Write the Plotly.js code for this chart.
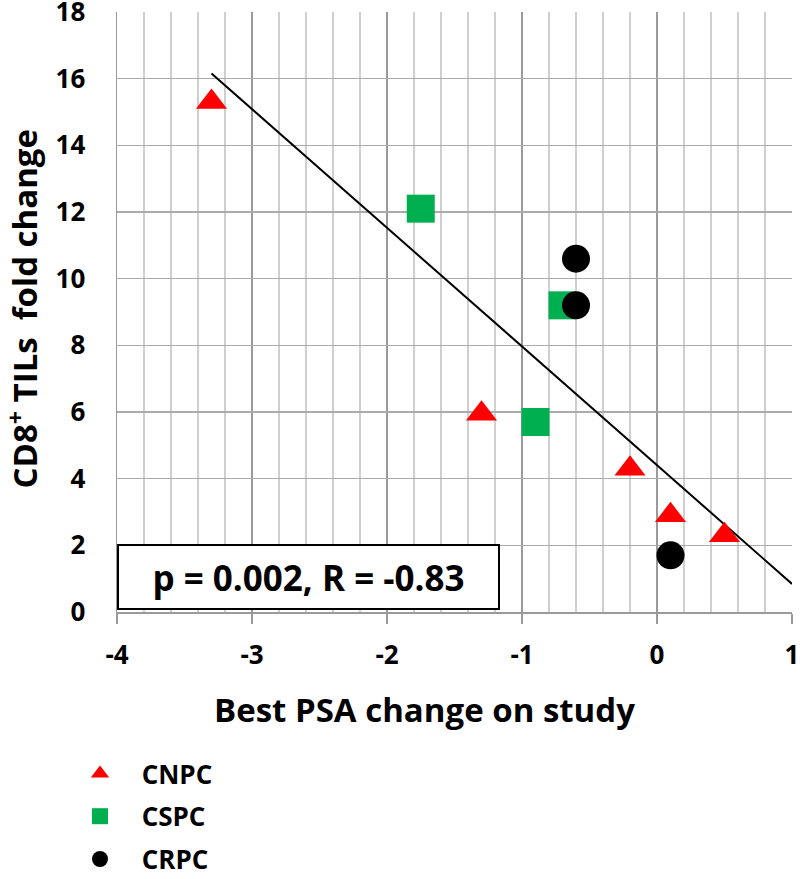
<!DOCTYPE html>
<html>
<head>
<meta charset="utf-8">
<script src="https://cdn.plot.ly/plotly-3.0.1.min.js"></script>
<style>html,body{margin:0;padding:0;background:#fff}#chart{width:800px;height:879px}</style>
</head>
<body>
<div id="chart"></div>
<script>
// Data
const cnpcX = [-3.3, -1.3, -0.2, 0.1, 0.5];
const cnpcY = [15.3, 5.95, 4.3, 2.9, 2.3];
const cspcX = [-1.75, -0.7, -0.9];
const cspcY = [12.1, 9.2, 5.7];
const crpcX = [-0.6, -0.6, 0.1];
const crpcY = [10.6, 9.2, 1.7];
const groupNames = ["CNPC", "CSPC", "CRPC"];
const xTickVals = [-4, -3, -2, -1, 0, 1];
const xTickText = ["-4", "-3", "-2", "-1", "0", "1"];
const yTickVals = [0, 2, 4, 6, 8, 10, 12, 14, 16, 18];
const yTickText = ["0", "2", "4", "6", "8", "10", "12", "14", "16", "18"];
const xTitle = "Best PSA change on study";
const yTitle = "CD8<sup>+</sup> TILs  fold change";
const statText = "p = 0.002, R = -0.83";
const fitRange = [-3.3, 1];

// least-squares fit of all points
const allX = cnpcX.concat(cspcX, crpcX);
const allY = cnpcY.concat(cspcY, crpcY);
const n = allX.length;
const mx = allX.reduce((a, b) => a + b, 0) / n;
const my = allY.reduce((a, b) => a + b, 0) / n;
let sxy = 0, sxx = 0;
for (let i = 0; i < n; i++) { sxy += (allX[i] - mx) * (allY[i] - my); sxx += (allX[i] - mx) ** 2; }
const slope = sxy / sxx;
const intercept = my - slope * mx;
const fitY = fitRange.map(x => intercept + slope * x);

const FONT = "'Open Sans', Lato, sans-serif";
const pad = "\u2002\u2004";

const traces = [
  { x: fitRange, y: fitY, mode: "lines", line: { color: "#000", width: 2 }, showlegend: false, hoverinfo: "skip" },
  { x: cnpcX, y: cnpcY, mode: "markers", name: pad + groupNames[0], legendgroup: "a",
    marker: { symbol: "triangle-up", size: 27, color: "#ff0000" } },
  { x: cspcX, y: cspcY, mode: "markers", name: pad + groupNames[1], legendgroup: "b",
    marker: { symbol: "square", size: 28, color: "#00b050" } },
  { x: crpcX, y: crpcY, mode: "markers", name: pad + groupNames[2], legendgroup: "c",
    marker: { symbol: "circle", size: 28, color: "#000000" } }
];

const layout = {
  width: 800, height: 879,
  margin: { l: 117, r: 8, t: 12, b: 267, autoexpand: false },
  paper_bgcolor: "#fff", plot_bgcolor: "#fff",
  font: { family: FONT, color: "#000", weight: "bold" },
  showlegend: true,
  legend: {
    xref: "container", yref: "container",
    x: 80 / 800, y: 1 - 750 / 879, xanchor: "left", yanchor: "top",
    font: { family: FONT, size: 26, color: "#000", weight: "bold" },
    tracegroupgap: 6, itemsizing: "trace", bgcolor: "rgba(0,0,0,0)"
  },
  xaxis: {
    range: [-4, 1], tickmode: "array", tickvals: xTickVals, ticktext: xTickText,
    automargin: false,
    showgrid: true, gridcolor: "#9a9a9a", gridwidth: 1.5,
    minor: { dtick: 0.2, tick0: -4, showgrid: true, gridcolor: "#cfcfcf", gridwidth: 1.5 },
    ticks: "outside", ticklen: 10, tickcolor: "#9a9a9a", tickwidth: 1.5,
    ticklabelstandoff: 9, ticklabeloverflow: "allow",
    showline: true, linecolor: "#9a9a9a", linewidth: 1.5,
    zeroline: false,
    tickfont: { family: FONT, size: 26, color: "#000", weight: "bold" }
  },
  yaxis: {
    range: [0, 18], tickmode: "array", tickvals: yTickVals, ticktext: yTickText,
    automargin: false,
    showgrid: true, gridcolor: "#ababab", gridwidth: 1.5,
    showline: true, linecolor: "#9a9a9a", linewidth: 1.5,
    zeroline: false, ticks: "", ticklabelstandoff: 25, ticklabeloverflow: "allow",
    tickfont: { family: FONT, size: 26, color: "#000", weight: "bold" }
  },
  annotations: [
    {
      xref: "paper", yref: "paper", x: 0, y: 0.003, xanchor: "left", yanchor: "bottom",
      text: statText, showarrow: false,
      font: { family: FONT, size: 35, color: "#000", weight: "bold" },
      bordercolor: "#000", borderwidth: 2, bgcolor: "#fff",
      width: 377, height: 60, align: "center", valign: "middle"
    },
    {
      xref: "paper", yref: "paper", x: 0.456, y: -0.163, xanchor: "center", yanchor: "middle",
      text: xTitle, showarrow: false,
      font: { family: FONT, size: 33, color: "#000", weight: "bold" }
    },
    {
      xref: "paper", yref: "paper", x: -0.14, y: 0.505, xanchor: "center", yanchor: "middle",
      text: yTitle, showarrow: false, textangle: -90,
      font: { family: FONT, size: 33, color: "#000", weight: "bold" }
    }
  ]
};

Plotly.newPlot("chart", traces, layout, { displayModeBar: false, staticPlot: true });
</script>
</body>
</html>
